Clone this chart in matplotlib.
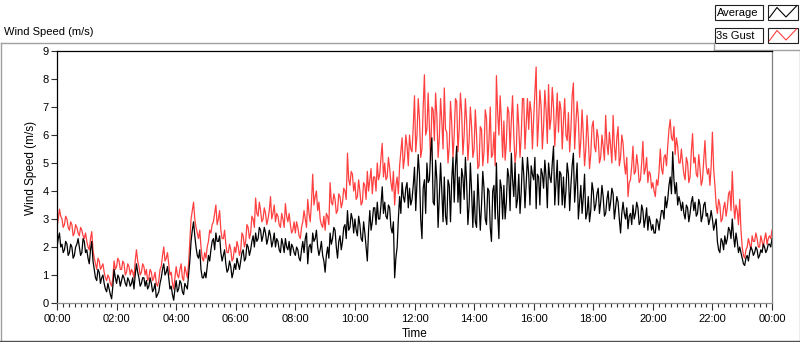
import numpy as np
import matplotlib
matplotlib.use("Agg")
import matplotlib.pyplot as plt
from matplotlib.patches import Rectangle
from matplotlib.ticker import FixedLocator, MultipleLocator

plt.rcParams['font.family'] = ['Liberation Sans', 'DejaVu Sans']

# readings every 5 minutes, 00:00 .. 24:00 (one row per hour)
average = [
    2.0, 2.5, 2.1, 1.9, 2.1, 1.8, 2.0, 1.7, 2.1, 2.0, 1.8, 2.2,       # 00
    1.9, 1.4, 2.2, 1.2, 0.8, 1.1, 0.9, 0.7, 0.4, 0.5, 0.15, 1.2,      # 01
    0.7, 0.9, 0.8, 0.9, 0.6, 0.8, 0.7, 0.5, 1.4, 0.9, 0.7, 0.9,       # 02
    0.8, 0.6, 0.7, 0.5, 0.2, 0.4, 0.9, 1.4, 1.1, 0.9, 0.6, 0.1,       # 03
    0.8, 0.5, 0.7, 0.3, 0.6, 1.0, 2.2, 2.9, 2.0, 1.6, 1.2, 0.9,       # 04
    0.9, 1.7, 1.9, 2.3, 2.5, 2.2, 1.8, 1.7, 1.4, 1.2, 1.3, 1.1,       # 05
    1.2, 1.4, 1.5, 1.9, 1.6, 2.0, 1.9, 2.4, 2.5, 2.3, 2.6, 2.4,       # 06
    2.5, 2.3, 2.4, 2.2, 2.0, 2.2, 1.8, 2.1, 2.3, 1.9, 1.7, 2.0,       # 07
    1.7, 1.9, 1.5, 2.2, 2.3, 1.4, 2.1, 2.5, 2.3, 2.0, 1.9, 1.7,       # 08
    1.1, 2.0, 2.5, 2.3, 2.6, 1.6, 2.4, 2.2, 2.8, 3.3, 2.7, 3.0,       # 09
    3.0, 2.4, 2.8, 2.2, 2.5, 1.5, 3.3, 2.9, 3.4, 3.6, 3.0, 4.15,      # 10
    3.6, 3.0, 3.4, 2.5, 0.9, 2.0, 3.8, 4.3, 3.6, 4.3, 4.1, 3.7,       # 11
    4.85, 4.3, 4.6, 2.3, 4.4, 5.0, 4.4, 5.9, 3.5, 4.4, 3.8, 4.0,      # 12
    4.5, 2.8, 4.2, 4.4, 3.6, 5.6, 4.5, 4.8, 3.7, 4.3, 3.5, 4.0,       # 13
    4.0, 2.7, 3.6, 3.5, 4.1, 2.8, 4.0, 2.2, 4.2, 5.0, 2.3, 4.1,       # 14
    4.2, 3.6, 4.5, 5.35, 3.8, 3.4, 4.6, 4.0, 4.6, 4.3, 4.6, 4.9,      # 15
    4.4, 3.37, 4.5, 4.8, 4.1, 4.5, 5.0, 4.3, 5.6, 4.3, 3.5, 4.6,      # 16
    4.5, 4.0, 4.6, 4.2, 5.35, 4.3, 3.0, 4.2, 3.8, 3.0, 3.8, 3.3,      # 17
    4.0, 3.5, 4.1, 3.6, 3.8, 3.2, 4.0, 3.6, 3.9, 3.4, 3.6, 2.5,       # 18
    3.6, 3.0, 2.65, 3.2, 3.5, 3.2, 3.4, 2.9, 3.3, 3.0, 2.6, 2.9,      # 19
    2.8, 2.5, 2.9, 3.0, 3.3, 3.8, 3.7, 4.5, 5.4, 3.9, 3.5, 3.6,       # 20
    3.6, 3.0, 3.4, 3.2, 3.8, 3.6, 3.2, 3.5, 3.1, 3.6, 3.2, 3.0,       # 21
    3.0, 2.8, 2.2, 1.8, 2.2, 2.4, 2.3, 2.6, 3.0, 2.0, 2.2, 2.0,       # 22
    1.6, 1.34, 1.7, 1.8, 1.9, 1.8, 1.9, 1.7, 1.8, 2.0, 1.9, 2.1,      # 23
    2.3,
]

# readings halfway between the ones above (hh:m2.5)
average_half = [
    2.3, 2.0, 1.8, 2.2, 1.7, 2.1, 1.6, 2.0, 2.3, 1.7, 2.3, 1.8,       # 00
    1.6, 1.9, 1.5, 0.9, 1.2, 0.7, 1.0, 0.5, 0.7, 0.3, 0.6, 0.9,       # 01
    1.0, 0.6, 1.0, 0.7, 0.9, 0.6, 0.9, 1.0, 1.1, 0.6, 0.9, 0.6,       # 02
    0.5, 0.9, 0.4, 0.7, 0.3, 0.7, 1.2, 1.0, 1.3, 0.5, 0.3, 0.5,       # 03
    0.4, 0.8, 0.4, 0.7, 0.5, 1.5, 2.6, 2.4, 1.7, 1.9, 0.9, 1.1,       # 04
    1.3, 1.5, 2.2, 1.9, 2.2, 2.4, 1.5, 1.9, 1.1, 1.5, 0.9, 1.4,       # 05
    1.6, 1.2, 1.8, 1.5, 2.1, 1.7, 2.2, 2.0, 2.2, 2.7, 2.2, 2.7,       # 06
    2.1, 2.6, 2.0, 2.5, 2.3, 1.9, 2.3, 1.8, 2.0, 2.2, 2.1, 1.8,       # 07
    2.0, 1.6, 1.9, 1.8, 2.5, 2.0, 1.8, 2.2, 2.6, 1.7, 2.2, 1.5,       # 08
    1.7, 1.6, 2.1, 2.7, 2.0, 2.2, 1.9, 2.7, 2.3, 2.6, 3.2, 2.5,       # 09
    2.6, 3.1, 2.3, 2.9, 2.0, 2.6, 2.6, 3.4, 2.8, 3.0, 3.5, 3.2,       # 10
    3.1, 3.5, 2.7, 2.9, 1.6, 3.0, 3.2, 3.8, 4.1, 3.4, 3.5, 4.2,       # 11
    3.3, 5.3, 3.0, 4.1, 3.2, 4.3, 5.4, 3.6, 5.1, 2.7, 5.0, 2.9,       # 12
    3.1, 4.4, 2.9, 5.2, 4.9, 3.6, 3.2, 4.5, 5.2, 2.8, 5.0, 2.7,       # 13
    2.9, 4.6, 2.6, 4.7, 3.0, 4.1, 2.7, 4.0, 3.0, 3.2, 4.4, 3.0,       # 14
    3.0, 4.8, 3.3, 4.4, 5.0, 3.7, 3.2, 5.2, 3.4, 5.2, 3.5, 4.6,       # 15
    5.2, 4.6, 3.5, 4.6, 5.1, 3.4, 4.5, 5.0, 3.5, 5.1, 4.7, 3.5,       # 16
    3.4, 5.0, 3.3, 4.9, 3.6, 5.0, 3.6, 3.2, 4.6, 3.2, 2.9, 4.3,       # 17
    3.3, 3.9, 3.2, 4.2, 3.1, 3.7, 3.3, 4.1, 3.0, 3.8, 3.0, 3.2,       # 18
    3.2, 3.4, 3.1, 2.8, 3.0, 3.6, 2.8, 3.5, 2.7, 3.4, 3.1, 2.6,       # 19
    2.5, 3.0, 2.6, 3.3, 3.0, 3.4, 4.2, 3.9, 4.4, 4.3, 3.8, 3.3,       # 20
    3.2, 3.5, 2.9, 3.6, 3.3, 3.1, 3.7, 2.9, 3.5, 3.1, 2.8, 3.3,       # 21
    2.6, 3.0, 1.9, 2.3, 1.9, 2.1, 2.7, 2.3, 2.4, 2.5, 1.8, 1.8,       # 22
    1.4, 1.6, 1.5, 2.0, 1.7, 2.0, 1.6, 1.9, 2.1, 1.8, 2.1, 2.0,       # 23
]

gust = [
    2.7, 3.35, 3.0, 2.8, 3.0, 2.6, 2.8, 2.5, 2.7, 2.4, 2.6, 2.3,      # 00
    2.2, 1.9, 2.55, 1.6, 1.2, 1.5, 1.3, 1.1, 0.8, 0.9, 0.6, 1.5,      # 01
    1.3, 1.5, 1.2, 1.4, 1.1, 1.3, 1.2, 0.9, 1.9, 1.3, 1.1, 1.3,       # 02
    1.2, 0.9, 1.1, 0.9, 0.7, 0.8, 1.3, 2.0, 1.6, 1.4, 1.1, 0.5,       # 03
    1.3, 0.9, 1.4, 0.8, 1.1, 1.4, 3.0, 3.6, 2.7, 2.3, 2.0, 1.5,       # 04
    1.6, 2.2, 2.5, 2.9, 3.5, 3.0, 2.6, 2.3, 2.1, 1.8, 1.9, 1.6,       # 05
    1.8, 2.0, 1.9, 2.4, 2.2, 2.7, 2.5, 3.0, 3.75, 3.1, 3.3, 3.0,      # 06
    3.2, 3.0, 3.8, 3.2, 2.9, 3.1, 2.7, 3.0, 3.55, 2.9, 2.8, 2.6,      # 07
    2.5, 2.7, 2.3, 2.9, 3.0, 3.7, 2.9, 4.6, 3.8, 3.3, 3.0, 2.7,       # 08
    2.6, 3.1, 4.3, 3.5, 3.7, 3.3, 3.8, 3.6, 4.0, 5.35, 4.2, 4.6,      # 09
    4.3, 3.8, 4.0, 3.6, 4.2, 4.7, 4.4, 3.9, 4.5, 5.0, 4.6, 5.7,       # 10
    5.0, 4.5, 4.8, 4.0, 3.5, 4.5, 4.9, 5.9, 5.2, 5.6, 6.0, 5.4,       # 11
    7.4, 6.0, 6.6, 5.5, 8.15, 6.2, 6.3, 7.0, 5.8, 6.7, 5.9, 6.5,      # 12
    7.68, 6.1, 5.6, 6.4, 6.0, 7.2, 6.2, 6.8, 6.0, 6.5, 5.8, 6.3,      # 13
    5.5, 6.0, 4.9, 6.2, 5.4, 6.6, 5.8, 5.2, 6.1, 8.12, 6.0, 6.5,      # 14
    6.5, 5.7, 6.8, 6.5, 6.0, 5.4, 6.3, 6.0, 7.3, 6.4, 6.2, 6.8,       # 15
    6.6, 8.43, 6.5, 7.0, 6.3, 6.9, 7.8, 6.6, 7.0, 6.5, 6.1, 6.9,      # 16
    6.5, 6.0, 6.8, 6.2, 7.86, 6.4, 6.6, 5.8, 6.0, 5.5, 5.9, 5.3,      # 17
    6.5, 5.4, 5.9, 5.2, 5.6, 6.7, 5.3, 5.6, 6.7, 5.1, 6.3, 5.2,       # 18
    5.7, 4.6, 3.8, 4.4, 5.6, 4.7, 4.9, 4.4, 5.77, 4.8, 4.3, 4.6,      # 19
    4.3, 3.8, 4.2, 5.5, 4.6, 5.3, 5.6, 6.55, 5.8, 5.3, 5.6, 5.0,      # 20
    5.0, 4.4, 5.0, 4.5, 6.05, 5.2, 4.5, 4.8, 4.4, 5.8, 4.6, 4.2,      # 21
    6.1, 4.2, 3.2, 3.5, 3.0, 3.6, 3.4, 4.0, 4.7, 3.0, 3.3, 3.7,       # 22
    2.0, 1.6, 2.0, 2.1, 2.4, 2.2, 2.3, 2.0, 2.2, 2.3, 2.1, 2.4,       # 23
    2.6,
]

gust_half = [
    3.0, 3.1, 2.7, 3.1, 2.7, 2.9, 2.4, 2.8, 2.5, 2.7, 2.4, 2.5,       # 00
    2.0, 2.3, 1.9, 1.4, 1.6, 1.2, 1.4, 0.9, 1.0, 0.7, 0.9, 1.2,       # 01
    1.6, 1.2, 1.5, 1.0, 1.4, 1.0, 1.1, 1.5, 1.5, 1.0, 1.4, 1.0,       # 02
    0.8, 1.2, 0.8, 1.1, 0.6, 1.2, 1.7, 1.5, 1.8, 1.0, 0.7, 0.9,       # 03
    1.0, 1.2, 0.9, 1.3, 0.9, 2.2, 3.3, 3.0, 2.5, 2.6, 1.6, 1.8,       # 04
    2.0, 2.6, 2.8, 3.2, 2.8, 3.3, 2.3, 2.6, 1.8, 2.1, 1.5, 2.0,       # 05
    2.2, 1.7, 2.5, 2.0, 2.8, 2.3, 3.1, 2.7, 3.2, 3.6, 2.9, 3.4,       # 06
    2.8, 3.3, 3.0, 3.5, 3.2, 2.8, 3.2, 2.7, 3.1, 3.2, 2.5, 2.9,       # 07
    2.9, 2.4, 2.7, 3.3, 2.7, 3.2, 3.6, 3.5, 4.0, 3.6, 2.8, 3.1,       # 08
    3.2, 2.8, 3.6, 3.9, 3.2, 3.9, 3.4, 4.1, 3.7, 4.4, 4.7, 4.0,       # 09
    3.7, 4.4, 3.5, 4.3, 3.7, 4.0, 4.8, 4.5, 4.0, 4.4, 5.2, 4.5,       # 10
    4.4, 5.2, 4.3, 4.7, 4.2, 3.9, 5.4, 4.8, 6.0, 4.9, 5.5, 6.3,       # 11
    5.4, 7.3, 5.2, 7.0, 6.0, 7.5, 5.1, 6.9, 7.5, 5.2, 7.3, 5.5,       # 12
    6.2, 5.0, 7.2, 5.2, 7.3, 5.4, 7.5, 5.3, 7.3, 5.1, 7.0, 5.2,       # 13
    6.9, 4.8, 6.3, 4.9, 6.9, 5.0, 7.0, 5.3, 4.9, 6.8, 7.4, 5.2,       # 14
    5.1, 7.0, 5.4, 7.4, 5.0, 7.1, 5.2, 7.3, 5.5, 7.3, 7.2, 5.5,       # 15
    7.5, 5.6, 7.6, 5.5, 7.6, 5.7, 6.2, 7.7, 5.6, 7.5, 7.2, 5.5,       # 16
    7.3, 5.8, 5.4, 7.4, 5.5, 7.2, 5.2, 6.9, 4.9, 6.7, 4.8, 6.3,       # 17
    5.6, 6.2, 5.0, 6.0, 5.1, 5.7, 6.1, 5.0, 5.6, 5.9, 4.9, 6.0,       # 18
    5.0, 5.2, 4.3, 4.9, 4.6, 5.3, 4.3, 5.0, 4.6, 5.2, 4.7, 4.1,       # 19
    4.0, 4.4, 4.7, 4.8, 5.2, 4.9, 6.2, 5.9, 6.3, 5.9, 5.0, 5.5,       # 20
    4.6, 5.2, 4.3, 5.4, 5.0, 4.6, 5.3, 4.2, 5.1, 4.9, 4.8, 4.9,       # 21
    4.8, 3.5, 3.7, 2.9, 3.4, 3.1, 3.9, 3.3, 3.6, 3.5, 2.8, 2.6,       # 22
    1.7, 1.9, 2.3, 1.9, 2.2, 2.5, 2.0, 2.4, 2.0, 2.5, 2.3, 2.3,       # 23
]

tick_hours = list(range(0, 25, 2))
tick_labels = ["00:00", "02:00", "04:00", "06:00", "08:00", "10:00", "12:00",
               "14:00", "16:00", "18:00", "20:00", "22:00", "00:00"]


def merge(full, half):
    out = np.empty(len(full) + len(half))
    out[0::2] = full
    out[1::2] = half
    return out


avg_series = merge(average, average_half)
gust_series = merge(gust, gust_half)
hours = np.arange(len(avg_series)) * 2.5 / 60.0

W, H = 800, 342
fig = plt.figure(figsize=(W / 100, H / 100), dpi=100)

# panel frame, drawn in pixel coords
frame = fig.add_axes([0, 0, 1, 1], zorder=0)
frame.set_xlim(0, W)
frame.set_ylim(H, 0)
frame.axis('off')
grey = '#a0a0a0'
frame.plot([0.5, 713.5], [42.5, 42.5], color=grey, lw=1)
frame.plot([713.5, 713.5], [42.5, 49.5], color=grey, lw=1)
frame.plot([713.5, 800], [49.5, 49.5], color=grey, lw=1)
frame.plot([0.5, 0.5], [42.5, 340.5], color=grey, lw=1)
frame.plot([799.5, 799.5], [49.5, 340.5], color=grey, lw=1)
frame.plot([0, 800], [340.5, 340.5], color='#505050', lw=1)
frame.text(4, 32, "Wind Speed (m/s)", fontsize=8, ha='left', va='center', color='black')

# legend boxes
for y0, name, col in [(4.5, "Average", 'black'), (27.5, "3s Gust", '#ff4040')]:
    frame.add_patch(Rectangle((714.5, y0), 48, 15.5, fc='white', ec='#202020', lw=0.8))
    frame.add_patch(Rectangle((767.5, y0), 30, 15.5, fc='white', ec='#202020', lw=0.8))
    frame.text(716.5, y0 + 8.5, name, fontsize=8, ha='left', va='center', color='black')
    frame.plot([769.5, 777, 786, 796.5], [y0 + 13, y0 + 3, y0 + 12.5, y0 + 1.5],
               color=col, lw=0.8)

ax = fig.add_axes([57 / W, 1 - 303 / H, 715 / W, 252 / H], zorder=1)
ax.plot(hours, gust_series, color='#ff4040', lw=0.9)
ax.plot(hours, avg_series, color='black', lw=0.9)

ax.set_xlim(0, 24)
ax.set_ylim(0, 9)
ax.xaxis.set_major_locator(FixedLocator(tick_hours))
ax.set_xticklabels(tick_labels)
ax.xaxis.set_minor_locator(MultipleLocator(0.2))
ax.yaxis.set_major_locator(MultipleLocator(1))

ax.tick_params(axis='x', which='major', length=5, width=0.8, color='#303030',
               labelsize=8, pad=3)
ax.tick_params(axis='x', which='minor', length=3, width=0.8, color='#303030')
ax.tick_params(axis='y', which='major', length=4, width=0.8, color='#303030',
               labelsize=8, pad=2)

ax.spines['top'].set_color('black')
ax.spines['left'].set_color('black')
ax.spines['right'].set_color('#808080')
ax.spines['bottom'].set_color('#909090')
for s in ax.spines.values():
    s.set_linewidth(0.9)

ax.set_xlabel("Time", fontsize=8.5)
ax.xaxis.set_label_coords(0.5, -0.123)
ax.xaxis.label.set_va('center')
ax.set_ylabel("Wind Speed (m/s)", fontsize=8.5)
ax.yaxis.set_label_coords(-0.036, 0.535)
ax.yaxis.label.set_va('center')

fig.savefig("out.png", dpi=100)
